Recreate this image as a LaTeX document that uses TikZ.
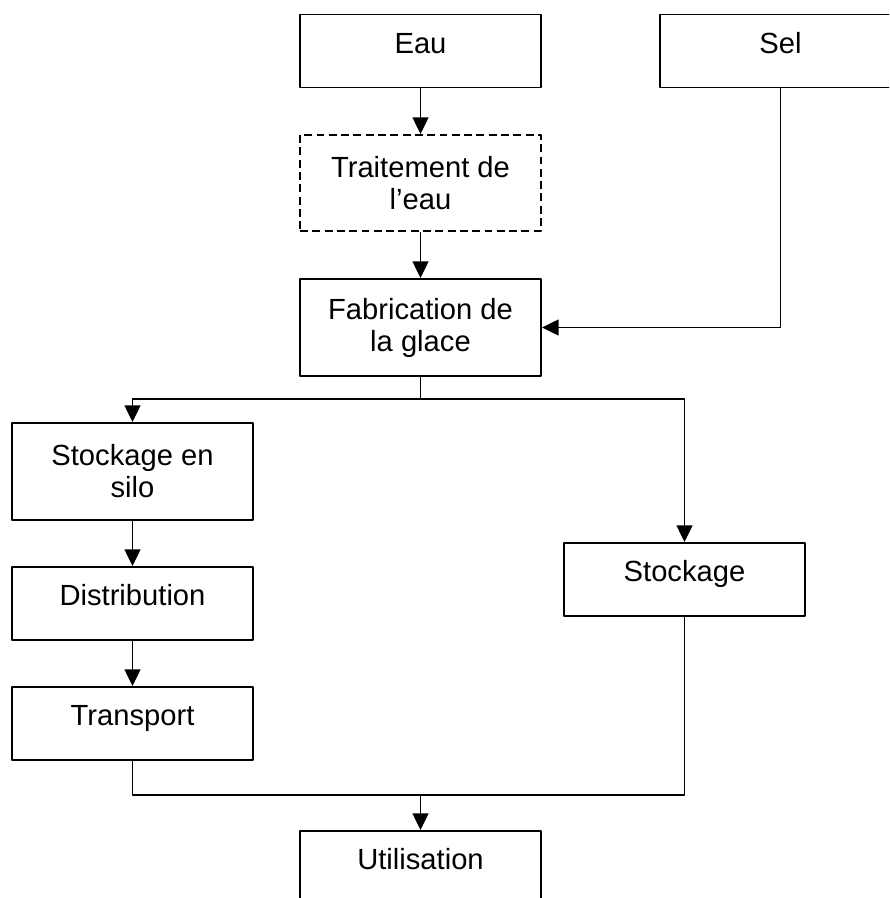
\documentclass[tikz,border=0pt]{standalone}
\usepackage{fontspec}
\setmainfont{Liberation Sans}
\usetikzlibrary{arrows.meta}
\tikzset{
	boite/.style={draw,line width=1.1pt,rectangle,align=center,minimum width=4.82cm,inner sep=2pt},
	ligne/.style={boite,minimum height=1.46cm,text height=11.9pt,text depth=9.6pt},
	deuxlignes/.style={boite,minimum height=1.94cm},
	pointille/.style={dash pattern=on 4.5pt off 2.5pt}
}
\begin{document}
\begin{tikzpicture}[x=0.02cm,y=-0.02cm,line join=round,>={Triangle[length=9.5pt,width=9pt]},line width=1.1pt,font=\fontsize{16.6}{18.2}\selectfont]
	\useasboundingbox (0,0) rectangle (889,898);
	\clip (0,0) rectangle (889,898);
	% === Les boîtes ===
	\node[ligne] (eau) at (420.5,51) {Eau};
	\node[ligne] (sel) at (780.5,51) {Sel};
	\node[deuxlignes,pointille,minimum height=1.92cm] (traitement) at (420.5,183) {Traitement de\\l'eau};
	\node[deuxlignes] (fabrication) at (420.5,327.5) {Fabrication de\\la glace};
	\node[deuxlignes] (silo) at (132.5,471.5) {Stockage en\\silo};
	\node[ligne] (distribution) at (132.5,603.5) {Distribution};
	\node[ligne] (transport) at (132.5,723.5) {Transport};
	\node[ligne] (stockage) at (684.5,579.5) {Stockage};
	\node[ligne] (utilisation) at (420.5,867.5) {Utilisation};
	\coordinate (split) at (420.5,399);
	\coordinate (merge) at (420.5,795);
	% === Les flèches ===
	\draw[->] (eau) -- (traitement);
	\draw[->] (traitement) -- (fabrication);
	\draw[->] (sel.south) |- (fabrication.east);
	\draw (fabrication) -- (split);
	\draw[->] (split) -| (silo.north);
	\draw[->] (split) -| (stockage.north);
	\draw[->] (silo) -- (distribution);
	\draw[->] (distribution) -- (transport);
	\draw (transport.south) |- (merge);
	\draw (stockage.south) |- (merge);
	\draw[->] (merge) -- (utilisation);
\end{tikzpicture}
\end{document}
